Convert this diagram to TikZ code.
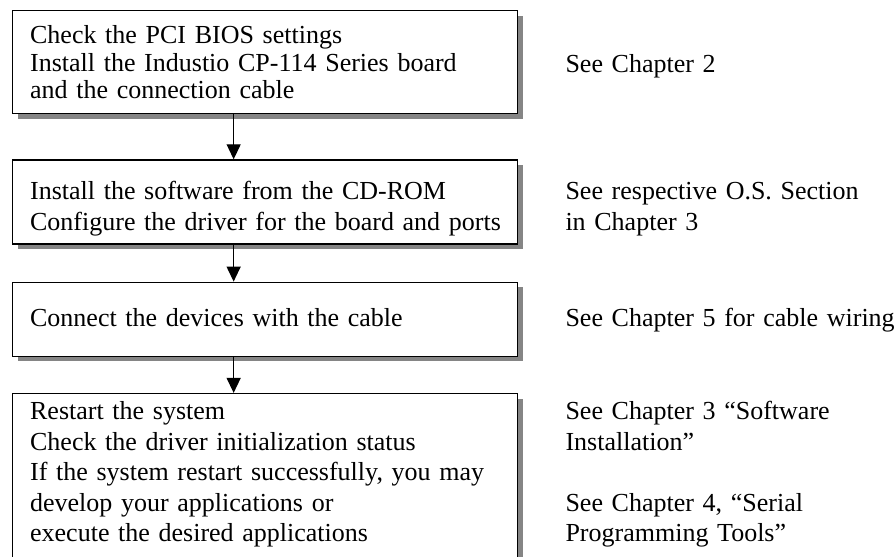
\documentclass[tikz,border=0pt]{standalone}
\usepackage{fontspec}
\setmainfont{Liberation Serif}
\usetikzlibrary{arrows.meta,positioning,shadows}
\definecolor{Shade}{HTML}{858585}
\newcommand\stepfont{\fontsize{26pt}{30.5pt}\selectfont}
\newcommand\tightfont{\fontsize{26pt}{27.5pt}\selectfont}
\tikzset{
  stepbox/.style={draw=black, line width=1.3pt, fill=white, text width=470pt,
    inner xsep=17.5pt, inner ysep=0pt, align=left, font=\stepfont,
    execute at begin node={\rightskip=0pt plus 1fil minus 25pt},
    drop shadow={shadow xshift=5pt, shadow yshift=-5pt, fill=Shade, opacity=1}},
  refnote/.style={inner sep=0pt, text width=345pt, align=left, font=\stepfont},
  flowarr/.style={-{Triangle[length=15pt,width=14pt]}, line width=1.3pt},
}

\begin{document}
\begin{tikzpicture}[x=1pt,y=-1pt]
  \useasboundingbox (0,0) rectangle (895,557);
  \node[stepbox, font=\tightfont, anchor=north west, text height=33pt, text depth=70pt]
    (chk) at (12,10) {Check the PCI BIOS settings\\Install the Industio CP-114 Series board\\and the connection cable};
  \node[stepbox, text height=40pt, text depth=44pt, below=45pt of chk]
    (inst) {Install the software from the CD-ROM\\Configure the driver for the board and ports};
  \node[stepbox, text height=44pt, text depth=30pt, below=37pt of inst]
    (conn) {Connect the devices with the cable};
  \node[stepbox, text height=26pt, text depth=180pt, below=36pt of conn]
    (rst) {Restart the system\\Check the driver initialization status\\If the system restart successfully, you may\\develop your applications or\\execute the desired applications};

  % references to the chapters
  \node[refnote, right=47pt of chk.base east, anchor=base west, yshift=-29pt]
    (chkref) {See Chapter 2};
  \node[refnote, right=47pt of inst.base east, anchor=base west]
    (instref) {See respective O.S. Section\\in Chapter 3};
  \node[refnote, right=47pt of conn.base east, anchor=base west]
    (connref) {See Chapter 5 for cable wiring};
  \node[refnote, right=47pt of rst.base east, anchor=base west]
    (rstref) {See Chapter 3 “Software\\Installation”\\[30.5pt]See Chapter 4, “Serial\\Programming Tools”};

  \draw[flowarr] ([xshift=-31.5pt]chk.south) -- ([xshift=-31.5pt]inst.north);
  \draw[flowarr] ([xshift=-31.5pt]inst.south) -- ([xshift=-31.5pt]conn.north);
  \draw[flowarr] ([xshift=-31.5pt]conn.south) -- ([xshift=-31.5pt]rst.north);
\end{tikzpicture}
\end{document}
